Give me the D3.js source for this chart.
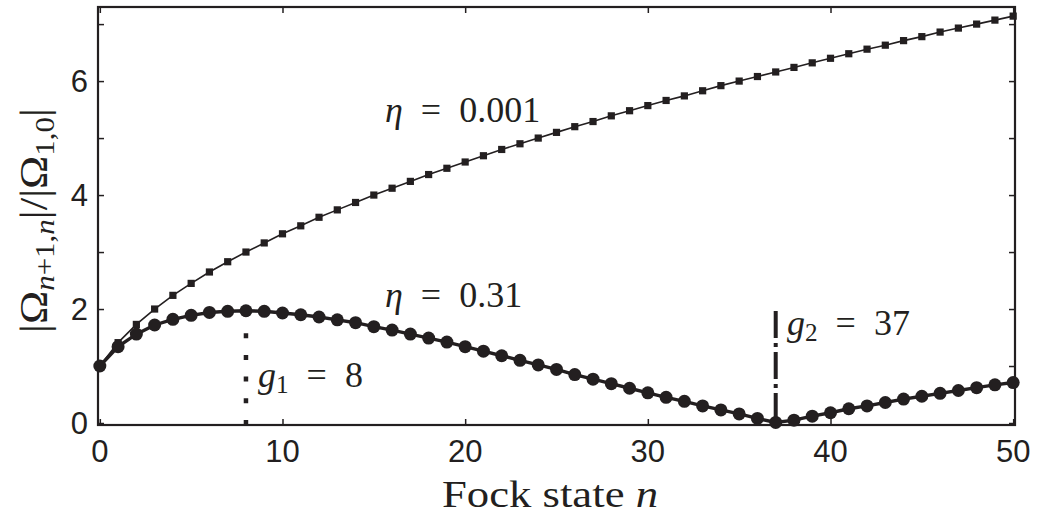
<!DOCTYPE html>
<html>
<head>
<meta charset="utf-8">
<script src="https://cdn.jsdelivr.net/npm/d3@7"></script>
<style>
    body {
        padding: 0;
        margin: 0;
        background: #fff;
    }
    text {
        fill: #231f20;
    }
</style>
</head>
<body>
<script>
// Fock state index n
const fockStates = [0, 1, 2, 3, 4, 5, 6, 7, 8, 9, 10, 11, 12, 13, 14, 15, 16, 17, 18, 19, 20,
    21, 22, 23, 24, 25, 26, 27, 28, 29, 30, 31, 32, 33, 34, 35, 36, 37, 38, 39, 40,
    41, 42, 43, 44, 45, 46, 47, 48, 49, 50];

// |Omega_{n+1,n}| / |Omega_{1,0}|
const etaSmall = [1.00, 1.41, 1.73, 2.00, 2.24, 2.45, 2.65, 2.83, 3.00, 3.16, 3.32,
    3.46, 3.61, 3.74, 3.87, 4.00, 4.12, 4.24, 4.36, 4.47, 4.58,
    4.69, 4.80, 4.90, 5.00, 5.10, 5.20, 5.29, 5.39, 5.48, 5.57,
    5.66, 5.74, 5.83, 5.92, 6.00, 6.08, 6.16, 6.24, 6.32, 6.40,
    6.48, 6.56, 6.63, 6.71, 6.78, 6.86, 6.93, 7.00, 7.07, 7.14];

const etaLarge = [1.00, 1.34, 1.56, 1.72, 1.82, 1.89, 1.94, 1.96, 1.97, 1.96, 1.93,
    1.90, 1.86, 1.81, 1.76, 1.69, 1.63, 1.56, 1.49, 1.42, 1.34,
    1.26, 1.18, 1.10, 1.02, 0.94, 0.85, 0.77, 0.69, 0.61, 0.53,
    0.45, 0.38, 0.30, 0.23, 0.16, 0.08, 0.01, 0.05, 0.12, 0.18,
    0.25, 0.30, 0.36, 0.42, 0.47, 0.52, 0.57, 0.62, 0.67, 0.71];

const xTicks = [0, 10, 20, 30, 40, 50];
const yTicks = [0, 1, 2, 3, 4, 5, 6, 7];
const yTickLabels = [0, 2, 4, 6];

// g1 and g2 markers
const gMarks = [
    {name: '1', n: 8, top: 1.9},
    {name: '2', n: 37, top: 2.0}
];

const width = 1042;
const height = 516;
const ink = '#231f20';
const serif = '"Liberation Serif", "DejaVu Serif", serif';
const sans = '"Liberation Sans", Arial, sans-serif';
const eq = '\u2002=\u2002';

const svg = d3.create('svg')
    .attr('viewBox', [0, 0, width, height])
    .attr('width', width)
    .attr('height', height);

document.body.appendChild(svg.node());

const x = d3.scaleLinear().domain([-0.1, 50.1]).range([98, 1015]);
const y = d3.scaleLinear().domain([-0.035, 7.3]).range([425, 7]);

// frame
svg.append('rect')
    .attr('x', x.range()[0])
    .attr('y', y.range()[1])
    .attr('width', x.range()[1] - x.range()[0])
    .attr('height', y.range()[0] - y.range()[1])
    .attr('fill', 'none')
    .attr('stroke', ink)
    .attr('stroke-width', 2.2);

// ticks, pointing inwards on all four sides
const tickLen = 6;
svg.append('g')
    .attr('transform', `translate(0,${y.range()[0]})`)
    .call(d3.axisBottom(x).tickValues(xTicks).tickSizeInner(-tickLen).tickSizeOuter(0).tickFormat(''))
    .call(g => g.select('.domain').remove());
svg.append('g')
    .attr('transform', `translate(0,${y.range()[1]})`)
    .call(d3.axisTop(x).tickValues(xTicks).tickSizeInner(-tickLen).tickSizeOuter(0).tickFormat(''))
    .call(g => g.select('.domain').remove());
svg.append('g')
    .attr('transform', `translate(${x.range()[0]},0)`)
    .call(d3.axisLeft(y).tickValues(yTicks).tickSizeInner(-tickLen).tickSizeOuter(0).tickFormat(''))
    .call(g => g.select('.domain').remove());
svg.append('g')
    .attr('transform', `translate(${x.range()[1]},0)`)
    .call(d3.axisRight(y).tickValues(yTicks).tickSizeInner(-tickLen).tickSizeOuter(0).tickFormat(''))
    .call(g => g.select('.domain').remove());
svg.selectAll('.tick line').attr('stroke', ink).attr('stroke-width', 1.5);

// tick labels
svg.append('g')
    .selectAll('text')
    .data(xTicks)
    .join('text')
        .attr('x', d => x(d))
        .attr('y', 462)
        .attr('text-anchor', 'middle')
        .style('font-family', sans)
        .style('font-size', '31px')
        .text(d => d);

svg.append('g')
    .selectAll('text')
    .data(yTickLabels)
    .join('text')
        .attr('x', 88)
        .attr('y', d => y(d) + 11)
        .attr('text-anchor', 'end')
        .style('font-family', sans)
        .style('font-size', '31px')
        .text(d => d);

// curves
const line = d3.line().x(d => x(d[0])).y(d => y(d[1]));
const smallPts = fockStates.map((n, i) => [n, etaSmall[i]]);
const largePts = fockStates.map((n, i) => [n, etaLarge[i]]);

svg.append('path')
    .attr('d', line(smallPts))
    .attr('fill', 'none')
    .attr('stroke', ink)
    .attr('stroke-width', 1.6);

svg.append('g')
    .selectAll('rect')
    .data(smallPts)
    .join('rect')
        .attr('x', d => x(d[0]) - 3.6)
        .attr('y', d => y(d[1]) - 3.6)
        .attr('width', 7.2)
        .attr('height', 7.2)
        .attr('fill', ink);

svg.append('path')
    .attr('d', line(largePts))
    .attr('fill', 'none')
    .attr('stroke', ink)
    .attr('stroke-width', 3.4);

svg.append('g')
    .selectAll('circle')
    .data(largePts)
    .join('circle')
        .attr('cx', d => x(d[0]))
        .attr('cy', d => y(d[1]))
        .attr('r', 6.5)
        .attr('fill', ink);

// g1 dotted, g2 dash-dot
svg.append('line')
    .attr('x1', x(gMarks[0].n)).attr('x2', x(gMarks[0].n))
    .attr('y1', y(0) + 2).attr('y2', y(gMarks[0].top))
    .attr('stroke', ink)
    .attr('stroke-width', 4.5)
    .attr('stroke-dasharray', '5,16.7');

svg.append('line')
    .attr('x1', x(gMarks[1].n)).attr('x2', x(gMarks[1].n))
    .attr('y1', y(2) + 2).attr('y2', y(0))
    .attr('stroke', ink)
    .attr('stroke-width', 4)
    .attr('stroke-dasharray', '27,5,4,5');

// annotations
function label(px, py, parts, size) {
    const t = svg.append('text')
        .attr('x', px)
        .attr('y', py)
        .style('font-family', serif)
        .style('font-size', size + 'px');
    parts.forEach(p => {
        const s = t.append('tspan').text(p.t);
        if (p.i) s.style('font-style', 'italic');
        if (p.sub) s.style('font-size', (size * 0.7) + 'px');
        if (p.dy) s.attr('dy', p.dy);
    });
    return t;
}

label(385, 122, [{t: 'η', i: true}, {t: eq + '0.001'}], 36);
label(385, 307, [{t: 'η', i: true}, {t: eq + '0.31'}], 36);
label(258, 387, [{t: 'g', i: true}, {t: gMarks[0].name, sub: true, dy: 6}, {t: eq + gMarks[0].n, dy: -6}], 36);
label(787, 335, [{t: 'g', i: true}, {t: gMarks[1].name, sub: true, dy: 6}, {t: eq + gMarks[1].n, dy: -6}], 36);

// axis titles
label(442, 507, [{t: 'Fock state '}, {t: 'n', i: true}], 37)
    .attr('textLength', 216)
    .attr('lengthAdjust', 'spacingAndGlyphs');

const yl = svg.append('text')
    .attr('transform', 'translate(47,333) rotate(-90)')
    .style('font-family', serif)
    .style('font-size', '39px')
    .attr('textLength', 225)
    .attr('lengthAdjust', 'spacingAndGlyphs');
yl.append('tspan').text('|Ω');
yl.append('tspan').attr('dy', 7).style('font-size', '27px').style('font-style', 'italic').text('n');
yl.append('tspan').style('font-size', '27px').text('+1,');
yl.append('tspan').style('font-size', '27px').style('font-style', 'italic').text('n');
yl.append('tspan').attr('dy', -7).text('|/|Ω');
yl.append('tspan').attr('dy', 7).style('font-size', '27px').text('1,0');
yl.append('tspan').attr('dy', -7).text('|');
</script>
</body>
</html>
